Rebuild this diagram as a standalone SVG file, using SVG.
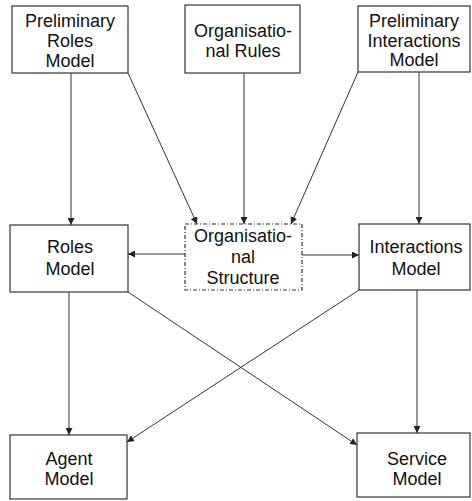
<svg xmlns="http://www.w3.org/2000/svg" width="472" height="501" viewBox="0 0 472 501">
  <defs>
    <marker id="arrow" viewBox="0 0 10 10" refX="10" refY="5" markerWidth="7" markerHeight="7" markerUnits="userSpaceOnUse" orient="auto">
      <path d="M0,0 L10,5 L0,10 z" fill="#222"/>
    </marker>
    <style>
      .box { fill: #fff; stroke: #333; stroke-width: 1.2; }
      .dashed { stroke-dasharray: 4 2 1 2; }
      .lbl { font-family: "Liberation Sans", Arial, sans-serif; font-size: 18px; fill: #111; text-anchor: middle; }
      .conn line { stroke: #333; stroke-width: 1; marker-end: url(#arrow); }
    </style>
  </defs>

  <rect width="472" height="501" fill="#fff"/>

  <g class="conn" id="connectors">
    <line x1="71" y1="73" x2="71" y2="225"/>
    <line x1="128" y1="73" x2="197" y2="224"/>
    <line x1="244" y1="73" x2="244" y2="224"/>
    <line x1="358" y1="72" x2="291" y2="224"/>
    <line x1="419" y1="72" x2="419" y2="224"/>
    <line x1="185" y1="254" x2="128" y2="254"/>
    <line x1="302" y1="255" x2="359" y2="255"/>
    <line x1="69" y1="292" x2="69" y2="435"/>
    <line x1="128" y1="292" x2="357" y2="445"/>
    <line x1="359" y1="290" x2="127" y2="442"/>
    <line x1="417" y1="290" x2="417" y2="433"/>
  </g>

  <g id="preliminary-roles-model">
    <rect class="box" x="12" y="6" width="116" height="67"/>
    <text class="lbl" x="70" y="27">Preliminary</text>
    <text class="lbl" x="70" y="47">Roles</text>
    <text class="lbl" x="70" y="67">Model</text>
  </g>

  <g id="organisational-rules">
    <rect class="box" x="185" y="5" width="115" height="68"/>
    <text class="lbl" x="243" y="37">Organisatio-</text>
    <text class="lbl" x="243" y="57">nal Rules</text>
  </g>

  <g id="preliminary-interactions-model">
    <rect class="box" x="358" y="6" width="112" height="66"/>
    <text class="lbl" x="414" y="27">Preliminary</text>
    <text class="lbl" x="414" y="47">Interactions</text>
    <text class="lbl" x="414" y="66">Model</text>
  </g>

  <g id="roles-model">
    <rect class="box" x="10" y="225" width="118" height="67"/>
    <text class="lbl" x="70" y="253">Roles</text>
    <text class="lbl" x="70" y="275">Model</text>
  </g>

  <g id="organisational-structure">
    <rect class="box dashed" x="185" y="224" width="117" height="66"/>
    <text class="lbl" x="243" y="242">Organisatio-</text>
    <text class="lbl" x="243" y="263">nal</text>
    <text class="lbl" x="243" y="284">Structure</text>
  </g>

  <g id="interactions-model">
    <rect class="box" x="359" y="224" width="111" height="66"/>
    <text class="lbl" x="416" y="253">Interactions</text>
    <text class="lbl" x="416" y="275">Model</text>
  </g>

  <g id="agent-model">
    <rect class="box" x="10" y="435" width="117" height="64"/>
    <text class="lbl" x="69" y="465">Agent</text>
    <text class="lbl" x="69" y="485">Model</text>
  </g>

  <g id="service-model">
    <rect class="box" x="357" y="433" width="113" height="64"/>
    <text class="lbl" x="417" y="465">Service</text>
    <text class="lbl" x="417" y="485">Model</text>
  </g>
</svg>
